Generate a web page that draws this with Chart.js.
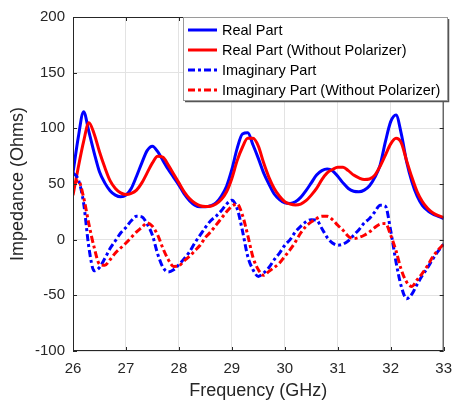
<!DOCTYPE html>
<html>
<head>
<meta charset="utf-8">
<script src="https://cdn.jsdelivr.net/npm/chart.js@4"></script>
<style>
html,body{margin:0;padding:0;background:#fff;}
#wrap{width:461px;height:405px;position:relative;}
</style>
</head>
<body>
<div id="wrap"><canvas id="c" width="461" height="405"></canvas></div>
<script>
const freq = [26.0,26.1,26.2,26.3,26.4,26.5,26.6,26.7,26.8,26.9,
  27.0,27.1,27.2,27.3,27.4,27.5,27.6,27.7,27.8,27.9,
  28.0,28.1,28.2,28.3,28.4,28.5,28.6,28.7,28.8,28.9,
  29.0,29.1,29.2,29.3,29.4,29.5,29.6,29.7,29.8,29.9,
  30.0,30.1,30.2,30.3,30.4,30.5,30.6,30.7,30.8,30.9,
  31.0,31.1,31.2,31.3,31.4,31.5,31.6,31.7,31.8,31.9,
  32.0,32.1,32.2,32.3,32.4,32.5,32.6,32.7,32.8,32.9,33.0];

const realPart = [60,92,115,97,78,61,51,44,40,38.5,
  40,46,57,69,80,84,79,71,63,56,
  49,41,35,31,29.5,29.5,30.5,33,39,48,
  63,82,95,96,85,73,60,50,41,36,
  33,32.5,34,38,44,51,58,62,63.5,62,
  57,51,46,43.5,43,44.5,48.5,56,67,88,
  106,112,95,70,52,39,30.5,26,23,21,19];

const realPartNoPol = [40,65,88,105,95,79,65,53,46,42,
  40.5,41.5,44.5,51,60,69,75,74,67,59,
  51,43,37,33,30.5,29.7,30,32,36,43,
  55,71,83,91,91,84,69,56,46,39,
  34,32,31.2,32,35,40,46,54,60,63,
  65,65,62,58,55.5,54,54.5,58,66,76,
  86,91,87,71,56,43,34,28,24,21.5,20];

const imagPart = [60,54,33,-7,-28,-25,-17,-8,-1,6,
  11,17,21,20.5,14,4,-13,-25,-29,-27,
  -22.5,-17,-11,-3,4,11,17,21,26,32,
  35.5,28,8,-15,-27,-33,-30,-25,-18,-12,
  -5,0,7,12,16,18,17.5,10,2,-3,
  -5,-4,-1,4,9,15,19,25,31,30,
  8,-20,-42,-53,-49,-40,-32,-25,-17,-10,-4];

const imagPartNoPol = [49,53,38,14,-7,-22,-23,-18,-12,-7.5,
  -3,2,7,11,15,12,4,-8,-18,-24,
  -23.5,-19,-15,-10,-5,2,7,13,19,25,
  30,32,22,4,-16,-27,-32,-28.5,-25,-21,
  -15,-9,-2,6,12,16,19,21,21,18,
  13,8.5,3,1,2,4,7,11,14,14.5,
  4,-10,-27,-38,-42,-36,-30,-23,-15,-9,-4];

const seriesNames = ['Real Part','Real Part (Without Polarizer)','Imaginary Part','Imaginary Part (Without Polarizer)'];
const xTicks = [26,27,28,29,30,31,32,33];
const yTicks = [-100,-50,0,50,100,150,200];

const FONT = "'Liberation Sans', Arial, Helvetica, sans-serif";
const AX = '#262626';
const DASH = [7,3,3,3];

function pts(vals){ return freq.map((f,i)=>({x:f,y:vals[i]})); }

const styles = [
  {color:'#0000ff', dash:[]},
  {color:'#ff0000', dash:[]},
  {color:'#0000ff', dash:DASH},
  {color:'#ff0000', dash:DASH}
];
const seriesVals = [realPart, realPartNoPol, imagPart, imagPartNoPol];

const datasets = seriesVals.map((v,i)=>({
  label: seriesNames[i],
  data: pts(v),
  borderColor: styles[i].color,
  backgroundColor: styles[i].color,
  borderDash: styles[i].dash,
  borderWidth: 3,
  pointRadius: 0,
  fill: false,
  cubicInterpolationMode: 'monotone',
  order: 4 - i
}));

const boxPlugin = {
  id: 'boxTicks',
  afterDatasetsDraw(chart){
    const {ctx, chartArea:{left,right,top,bottom}, scales:{x,y}} = chart;
    ctx.save();
    ctx.strokeStyle = AX; ctx.lineWidth = 1; ctx.setLineDash([]);
    ctx.strokeRect(left+0.5, top+0.5, right-left-1, bottom-top-1);
    const tl = 4;
    ctx.beginPath();
    xTicks.forEach(v=>{
      const px = Math.round(x.getPixelForValue(v))+0.5;
      ctx.moveTo(px, bottom); ctx.lineTo(px, bottom-tl);
      ctx.moveTo(px, top); ctx.lineTo(px, top+tl);
    });
    yTicks.forEach(v=>{
      const py = Math.round(y.getPixelForValue(v))+0.5;
      ctx.moveTo(left, py); ctx.lineTo(left+tl, py);
      ctx.moveTo(right, py); ctx.lineTo(right-tl, py);
    });
    ctx.stroke();
    ctx.restore();
  },
  afterDraw(chart){
    const ctx = chart.ctx;
    const bx = 183, by = 17, bw = 264, bh = 83;
    ctx.save();
    ctx.fillStyle = '#fff';
    ctx.fillRect(bx, by, bw, bh);
    ctx.strokeStyle = '#555'; ctx.lineWidth = 1.5;
    ctx.beginPath();
    ctx.moveTo(bx+bw+1.5, by+2); ctx.lineTo(bx+bw+1.5, by+bh+1.5); ctx.lineTo(bx+2, by+bh+1.5);
    ctx.stroke();
    ctx.strokeStyle = '#9a9a9a'; ctx.lineWidth = 1;
    ctx.strokeRect(bx+0.5, by+0.5, bw, bh);
    ctx.font = '14.5px ' + FONT;
    ctx.textBaseline = 'middle';
    ctx.fillStyle = '#000';
    chart.data.datasets.forEach((ds,i)=>{
      const yy = by + 13 + i*20;
      ctx.strokeStyle = ds.borderColor; ctx.lineWidth = 3;
      ctx.setLineDash(ds.borderDash || []);
      ctx.beginPath(); ctx.moveTo(bx+5, yy); ctx.lineTo(bx+34, yy); ctx.stroke();
      ctx.setLineDash([]);
      ctx.fillText(ds.label, bx+39, yy+0.5);
    });
    ctx.restore();
  }
};

new Chart(document.getElementById('c'), {
  type: 'line',
  data: { datasets },
  options: {
    responsive: false,
    animation: false,
    devicePixelRatio: 1,
    layout: { padding: { top: 12, right: 9, left: 0, bottom: 0 } },
    plugins: { legend: { display: false }, tooltip: { enabled: false } },
    scales: {
      x: {
        type: 'linear', min: 26, max: 33,
        afterBuildTicks(s){ s.ticks = xTicks.map(v=>({value:v})); },
        afterFit(s){ s.height = 54; },
        grid: { color: '#e3e3e3', drawTicks: false, tickLength: 0 },
        border: { display: false },
        ticks: { color: AX, font: { family: FONT, size: 15 }, padding: 9, maxRotation: 0, autoSkip: false },
        title: { display: true, text: 'Frequency (GHz)', color: AX, font: { family: FONT, size: 18 }, padding: { top: 0, bottom: 3 } }
      },
      y: {
        type: 'linear', min: -100, max: 200,
        afterBuildTicks(s){ s.ticks = yTicks.map(v=>({value:v})); },
        afterFit(s){ s.width = 73; },
        grid: { color: '#e3e3e3', drawTicks: false, tickLength: 0 },
        border: { display: false },
        ticks: { color: AX, font: { family: FONT, size: 15 }, padding: 8, autoSkip: false },
        title: { display: true, text: 'Impedance (Ohms)', color: AX, font: { family: FONT, size: 18 }, padding: { top: 7, bottom: 0 } }
      }
    }
  },
  plugins: [boxPlugin]
});
</script>
</body>
</html>
